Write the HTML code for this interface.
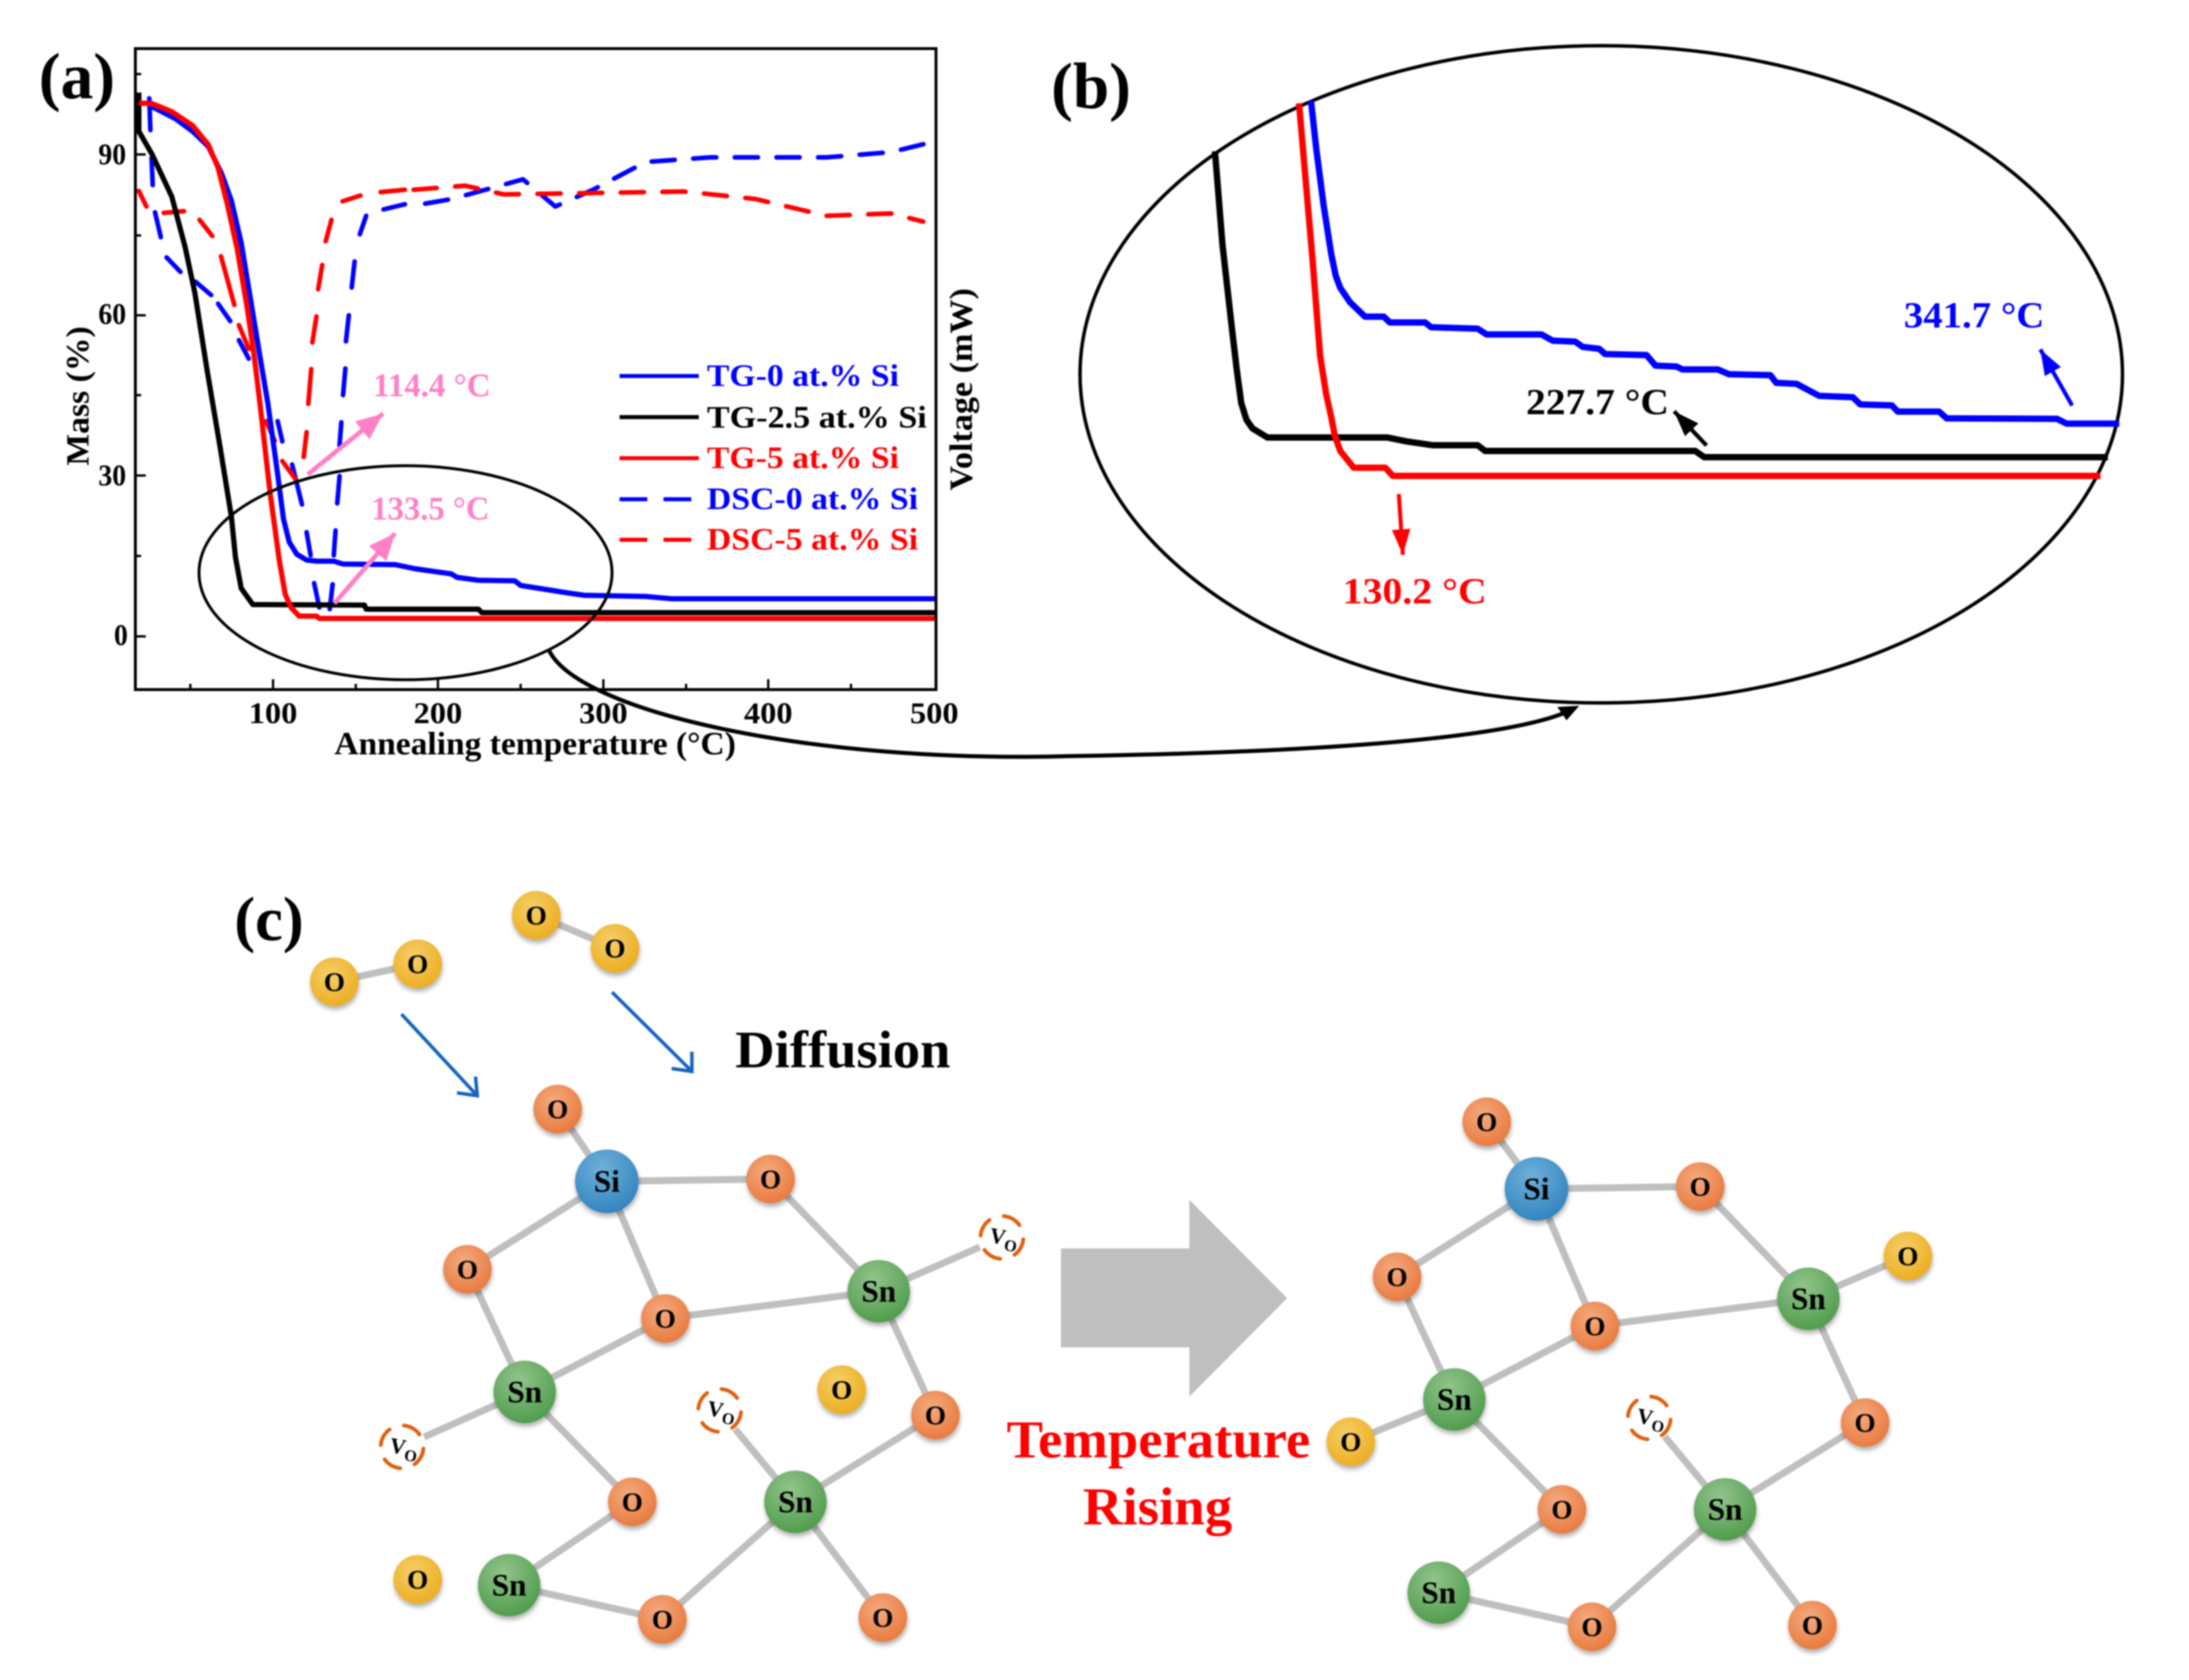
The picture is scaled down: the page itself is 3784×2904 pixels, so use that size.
<!DOCTYPE html>
<html><head><meta charset="utf-8"><style>
html,body{margin:0;padding:0;background:#fff}
svg{display:block;filter:blur(1.2px)}
text{font-family:"Liberation Serif",serif;font-weight:bold}
.n{fill:none;stroke-linejoin:round;stroke-linecap:butt}
.d{fill:none;stroke-linecap:round;stroke-linejoin:round;stroke-width:8}
.v{vector-effect:non-scaling-stroke;fill:none;stroke-linejoin:round}
.b{stroke:#bfbfbf;stroke-width:12}
.o{font-size:47px;text-anchor:middle}
.s{font-size:54px;text-anchor:middle}
.t{font-size:52px}
.l{font-size:54px}
.vo{font-size:38px}
.vo tspan{font-size:28px}
</style></head><body>
<svg xmlns="http://www.w3.org/2000/svg" width="3784" height="2904" viewBox="0 0 3784 2904">
<defs>
<radialGradient id="go" cx=".42" cy=".35" r=".7"><stop offset="0" stop-color="#f4ab80"/><stop offset="1" stop-color="#e8773a"/></radialGradient>
<radialGradient id="gy" cx=".42" cy=".35" r=".7"><stop offset="0" stop-color="#f5cf6a"/><stop offset="1" stop-color="#ecab1c"/></radialGradient>
<radialGradient id="gg" cx=".42" cy=".3" r=".75"><stop offset="0" stop-color="#92c48c"/><stop offset="1" stop-color="#4c9a48"/></radialGradient>
<radialGradient id="gb" cx=".42" cy=".3" r=".75"><stop offset="0" stop-color="#6fb0da"/><stop offset="1" stop-color="#2f82bd"/></radialGradient>
<filter id="sh" x="-30%" y="-30%" width="160%" height="160%"><feDropShadow dx="1" dy="6" stdDeviation="4" flood-color="#000" flood-opacity=".3"/></filter>
<marker id="mp" markerUnits="userSpaceOnUse" markerWidth="50" markerHeight="44" refX="46" refY="20" orient="auto"><path d="M0,0L46,20L0,40Z" fill="#ff80c4"/></marker>
<marker id="mbl" markerUnits="userSpaceOnUse" markerWidth="50" markerHeight="40" refX="44" refY="16" orient="auto"><path d="M0,0L44,16L0,32Z" fill="#0000ff"/></marker>
<marker id="mk" markerUnits="userSpaceOnUse" markerWidth="50" markerHeight="40" refX="44" refY="16" orient="auto"><path d="M0,0L44,16L0,32Z" fill="#000"/></marker>
<marker id="mr" markerUnits="userSpaceOnUse" markerWidth="50" markerHeight="40" refX="44" refY="16" orient="auto"><path d="M0,0L44,16L0,32Z" fill="#ff0000"/></marker>
</defs>
<rect width="3784" height="2904" fill="#fff"/>

<!-- panel a -->
<path class="d" stroke="#0000ff" d="M258,170L260,225M262,273L264,320M268,367L278,410M288,445L312,470M338,487L365,510M377,525L398,555M413,588L430,620M480,728L488,763M505,803L522,872M530,920L537,960M543,1008L552,1050M570,1053L575,1010M577,960L580,917M583,870L587,823M587,770L590,730M593,683L597,637M598,590L603,545M608,497L613,452M622,405L633,373M663,362L700,353"/>
<polyline class="d" stroke="#0000ff" stroke-dasharray="40,32" points="735,352 781,344 904,310 960,357 1027,327 1116,280 1228,272 1429,272 1540,263 1618,244"/>
<path class="d" stroke="#ff0000" d="M240,330L253,357M283,368L318,365M345,380L367,408M382,443L405,527M413,562L430,603M460,728L475,762M488,797L510,827M525,790L530,747M533,698L538,638M540,592L547,547M550,500L557,458M563,417L573,380M592,348L623,338M658,332L700,328"/>
<polyline class="d" stroke="#ff0000" stroke-dasharray="40,32" points="715,328 804,321 871,336 1004,334 1183,331 1306,344 1429,373 1540,369 1596,383"/>
<polyline class="n" stroke="#0000ff" stroke-width="9" points="260,183 303,205 333,227 360,253 383,300 400,347 417,420 433,517 450,620 463,697 480,820 490,897 500,937 513,958 530,968 547,970 577,970 593,975 683,976 717,983 780,992 790,998 827,1003 890,1004 900,1012 938,1018 982,1025 1010,1029 1116,1031 1161,1035 1618,1035"/>
<polyline class="n" stroke="#000" stroke-width="9" points="240,160 240,227 263,267 297,340 320,427 337,507 358,640 380,770 400,893 407,963 417,1017 437,1045 630,1046 633,1053 827,1053 833,1059 1618,1059"/>
<polyline class="n" stroke="#ff0000" stroke-width="9" points="240,178 263,179 297,193 333,217 360,250 377,290 393,353 410,430 427,530 440,620 450,703 467,853 483,970 493,1027 503,1050 517,1065 547,1065 552,1069 1618,1069"/>
<rect x="234" y="84" width="1384" height="1108" fill="none" stroke="#000" stroke-width="5"/>
<path d="M472,1192v-18M757,1192v-18M1043,1192v-18M1328,1192v-18M329,1192v-10M615,1192v-10M900,1192v-10M1186,1192v-10M1471,1192v-10M234,267h18M234,545h18M234,822h18M234,1100h18M234,128h10M234,407h10M234,683h10M234,961h10" stroke="#000" stroke-width="4" fill="none"/>
<ellipse cx="701" cy="990" rx="357" ry="185" fill="none" stroke="#000" stroke-width="5"/>
<path d="M949,1124C1000,1230 1400,1320 1850,1307C2300,1300 2600,1275 2705,1232" fill="none" stroke="#000" stroke-width="7"/>
<path d="M2730,1220L2692,1222L2708,1245Z" fill="#000"/>

<text x="67" y="170" font-size="113" textLength="132" lengthAdjust="spacingAndGlyphs">(a)</text>
<text class="t" x="170" y="284" textLength="48" lengthAdjust="spacingAndGlyphs">90</text>
<text class="t" x="170" y="560" textLength="48" lengthAdjust="spacingAndGlyphs">60</text>
<text class="t" x="170" y="839" textLength="48" lengthAdjust="spacingAndGlyphs">30</text>
<text class="t" x="197" y="1115" textLength="24" lengthAdjust="spacingAndGlyphs">0</text>
<text class="t" x="430" y="1250" textLength="84" lengthAdjust="spacingAndGlyphs">100</text>
<text class="t" x="715" y="1250" textLength="84" lengthAdjust="spacingAndGlyphs">200</text>
<text class="t" x="1001" y="1250" textLength="84" lengthAdjust="spacingAndGlyphs">300</text>
<text class="t" x="1286" y="1250" textLength="84" lengthAdjust="spacingAndGlyphs">400</text>
<text class="t" x="1573" y="1250" textLength="84" lengthAdjust="spacingAndGlyphs">500</text>
<text x="578" y="1304" font-size="56" textLength="694" lengthAdjust="spacingAndGlyphs">Annealing temperature (°C)</text>
<text transform="translate(153,805) rotate(-90)" font-size="56" textLength="241" lengthAdjust="spacingAndGlyphs">Mass (%)</text>
<text transform="translate(1680,848) rotate(-90)" font-size="56" textLength="350" lengthAdjust="spacingAndGlyphs">Voltage (mW)</text>

<path d="M1071,650H1208" stroke="#0000ff" stroke-width="7"/>
<path d="M1071,721H1208" stroke="#000" stroke-width="7"/>
<path d="M1071,792H1208" stroke="#ff0000" stroke-width="7"/>
<path d="M1071,863H1208" stroke="#0000ff" stroke-width="7" stroke-dasharray="48,28"/>
<path d="M1071,933H1208" stroke="#ff0000" stroke-width="7" stroke-dasharray="48,28"/>
<text class="l" x="1222" y="667" fill="#0000ff" textLength="332" lengthAdjust="spacingAndGlyphs">TG-0 at.% Si</text>
<text class="l" x="1222" y="739" fill="#000" textLength="380" lengthAdjust="spacingAndGlyphs">TG-2.5 at.% Si</text>
<text class="l" x="1222" y="809" fill="#ff0000" textLength="332" lengthAdjust="spacingAndGlyphs">TG-5 at.% Si</text>
<text class="l" x="1222" y="880" fill="#0000ff" textLength="365" lengthAdjust="spacingAndGlyphs">DSC-0 at.% Si</text>
<text class="l" x="1222" y="950" fill="#ff0000" textLength="365" lengthAdjust="spacingAndGlyphs">DSC-5 at.% Si</text>

<text x="645" y="685" font-size="57" fill="#ff80c4" textLength="203" lengthAdjust="spacingAndGlyphs">114.4 °C</text>
<text x="642" y="898" font-size="57" fill="#ff80c4" textLength="204" lengthAdjust="spacingAndGlyphs">133.5 °C</text>
<line x1="532" y1="820" x2="662" y2="715" stroke="#ff80c4" stroke-width="8" marker-end="url(#mp)"/>
<line x1="578" y1="1043" x2="683" y2="922" stroke="#ff80c4" stroke-width="8" marker-end="url(#mp)"/>

<!-- panel b -->
<text x="1817" y="187" font-size="113" textLength="138" lengthAdjust="spacingAndGlyphs">(b)</text>
<ellipse cx="2768" cy="647" rx="901" ry="568" fill="none" stroke="#000" stroke-width="6"/>
<g transform="translate(1750,50) scale(1.2972,.829)">
<polyline class="v" stroke="#0000ff" stroke-width="11" points="398,150 405,250 415,370 425,470 431,515 437,540 450,570 470,600 495,600 503,612 550,612 558,622 620,625 632,637 705,637 720,650 750,652 760,663 782,667 790,678 845,680 857,702 885,704 893,710 940,710 955,720 1010,722 1018,738 1045,740 1075,765 1120,768 1130,783 1172,785 1180,798 1235,798 1245,812 1392,813 1405,823 1475,823"/>
<polyline class="v" stroke="#000" stroke-width="11" points="270,255 280,450 293,630 299,710 305,780 312,815 320,833 340,852 500,852 525,860 560,868 620,868 630,880 910,880 922,893 1460,893"/>
<polyline class="v" stroke="#ff0000" stroke-width="11" points="382,155 390,300 400,480 410,680 418,760 425,810 430,850 437,880 455,915 497,915 507,932 1450,932"/>
</g>
<text x="3291" y="566" font-size="64" fill="#0000ff" textLength="243" lengthAdjust="spacingAndGlyphs">341.7 °C</text>
<text x="2638" y="716" font-size="64" fill="#000" textLength="247" lengthAdjust="spacingAndGlyphs">227.7 °C</text>
<text x="2321" y="1043" font-size="64" fill="#ff0000" textLength="249" lengthAdjust="spacingAndGlyphs">130.2 °C</text>
<line x1="3582" y1="701" x2="3527" y2="604" stroke="#0000ff" stroke-width="7" marker-end="url(#mbl)"/>
<line x1="2950" y1="770" x2="2894" y2="711" stroke="#000" stroke-width="7" marker-end="url(#mk)"/>
<line x1="2418" y1="854" x2="2425" y2="959" stroke="#ff0000" stroke-width="7" marker-end="url(#mr)"/>

<!-- panel c -->
<text x="405" y="1625" font-size="108" textLength="120" lengthAdjust="spacingAndGlyphs">(c)</text>
<text x="1271" y="1845" font-size="91" textLength="372" lengthAdjust="spacingAndGlyphs">Diffusion</text>
<text x="1740" y="2519" font-size="92" fill="#ff0000" textLength="525" lengthAdjust="spacingAndGlyphs">Temperature</text>
<text x="1872" y="2635" font-size="92" fill="#ff0000" textLength="258" lengthAdjust="spacingAndGlyphs">Rising</text>
<path d="M694,1753L825,1894M790,1889L825,1894L822,1861M1058,1715L1196,1852M1161,1847L1196,1852L1196,1818" fill="none" stroke="#1565c0" stroke-width="6"/>
<path d="M1834,2158H2056V2074L2225,2244L2056,2414V2329H1834Z" fill="#bfbfbf"/>

<g class="b" fill="none">
<path d="M578,1697L722,1666M927,1582L1063,1639"/>
<path d="M964,1917L1049,2042M1049,2042L1332,2038M1049,2042L808,2194M1049,2042L1150,2279M1332,2038L1519,2232M1150,2279L1519,2232M1519,2232L1732,2139M808,2194L907,2406M1150,2279L907,2406M907,2406L695,2501M907,2406L1093,2596M1093,2596L880,2740M880,2740L1145,2799M1145,2799L1375,2596M1375,2596L1617,2446M1617,2446L1519,2232M1375,2596L1244,2438M1375,2596L1526,2796"/>
<path d="M2570,1939L2656,2055M2656,2055L2939,2051M2656,2055L2415,2207M2656,2055L2757,2292M2939,2051L3126,2245M2757,2292L3126,2245M3126,2245L3298,2171M2415,2207L2514,2419M2757,2292L2514,2419M2514,2419L2335,2492M2514,2419L2700,2609M2700,2609L2487,2753M2487,2753L2752,2812M2752,2812L2982,2609M2982,2609L3224,2459M3224,2459L3126,2245M2982,2609L2851,2451M2982,2609L3133,2809"/>
</g>

<!-- Vo -->
<g fill="#fff" stroke="none">
<circle cx="1732" cy="2139" r="42"/><circle cx="695" cy="2501" r="42"/><circle cx="1244" cy="2438" r="42"/><circle cx="2851" cy="2451" r="42"/>
</g>
<g fill="none" stroke="#e0600f" stroke-width="6.5" stroke-dasharray="32,26.1" stroke-dashoffset="-3" stroke-linecap="round">
<circle cx="1732" cy="2139" r="37"/><circle cx="695" cy="2501" r="37"/><circle cx="1244" cy="2438" r="37"/><circle cx="2851" cy="2451" r="37"/>
</g>
<text class="vo" transform="translate(1709,2147) rotate(10)">V<tspan dy="9">O</tspan></text>
<text class="vo" transform="translate(672,2510) rotate(10)">V<tspan dy="9">O</tspan></text>
<text class="vo" transform="translate(1221,2446) rotate(10)">V<tspan dy="9">O</tspan></text>
<text class="vo" transform="translate(2828,2459) rotate(10)">V<tspan dy="9">O</tspan></text>

<!-- atoms -->
<g filter="url(#sh)">
<circle cx="578" cy="1697" r="42" fill="url(#gy)"/><circle cx="722" cy="1666" r="42" fill="url(#gy)"/><circle cx="927" cy="1582" r="42" fill="url(#gy)"/><circle cx="1063" cy="1639" r="42" fill="url(#gy)"/>
<circle cx="1455" cy="2402" r="42" fill="url(#gy)"/><circle cx="722" cy="2730" r="42" fill="url(#gy)"/>
<circle cx="3298" cy="2171" r="42" fill="url(#gy)"/><circle cx="2335" cy="2492" r="42" fill="url(#gy)"/>

<circle cx="964" cy="1917" r="42" fill="url(#go)"/><circle cx="1332" cy="2038" r="42" fill="url(#go)"/><circle cx="808" cy="2194" r="42" fill="url(#go)"/><circle cx="1150" cy="2279" r="42" fill="url(#go)"/><circle cx="1617" cy="2446" r="42" fill="url(#go)"/><circle cx="1093" cy="2596" r="42" fill="url(#go)"/><circle cx="1145" cy="2799" r="42" fill="url(#go)"/><circle cx="1526" cy="2796" r="42" fill="url(#go)"/>
<circle cx="2570" cy="1939" r="42" fill="url(#go)"/><circle cx="2939" cy="2051" r="42" fill="url(#go)"/><circle cx="2415" cy="2207" r="42" fill="url(#go)"/><circle cx="2757" cy="2292" r="42" fill="url(#go)"/><circle cx="3224" cy="2459" r="42" fill="url(#go)"/><circle cx="2700" cy="2609" r="42" fill="url(#go)"/><circle cx="2752" cy="2812" r="42" fill="url(#go)"/><circle cx="3133" cy="2809" r="42" fill="url(#go)"/>

<circle cx="1049" cy="2042" r="55" fill="url(#gb)"/><circle cx="2656" cy="2055" r="55" fill="url(#gb)"/>
<circle cx="1519" cy="2232" r="54" fill="url(#gg)"/><circle cx="907" cy="2406" r="54" fill="url(#gg)"/><circle cx="1375" cy="2596" r="54" fill="url(#gg)"/><circle cx="880" cy="2740" r="54" fill="url(#gg)"/>
<circle cx="3126" cy="2245" r="54" fill="url(#gg)"/><circle cx="2514" cy="2419" r="54" fill="url(#gg)"/><circle cx="2982" cy="2609" r="54" fill="url(#gg)"/><circle cx="2487" cy="2753" r="54" fill="url(#gg)"/>
</g>

<g>
<text class="o" x="578" y="1713">O</text><text class="o" x="722" y="1682">O</text><text class="o" x="927" y="1598">O</text><text class="o" x="1063" y="1655">O</text>
<text class="o" x="1455" y="2418">O</text><text class="o" x="722" y="2746">O</text>
<text class="o" x="3298" y="2187">O</text><text class="o" x="2335" y="2508">O</text>
<text class="o" x="964" y="1933">O</text><text class="o" x="1332" y="2054">O</text><text class="o" x="808" y="2210">O</text><text class="o" x="1150" y="2295">O</text><text class="o" x="1617" y="2462">O</text><text class="o" x="1093" y="2612">O</text><text class="o" x="1145" y="2815">O</text><text class="o" x="1526" y="2812">O</text>
<text class="o" x="2570" y="1955">O</text><text class="o" x="2939" y="2067">O</text><text class="o" x="2415" y="2223">O</text><text class="o" x="2757" y="2308">O</text><text class="o" x="3224" y="2475">O</text><text class="o" x="2700" y="2625">O</text><text class="o" x="2752" y="2828">O</text><text class="o" x="3133" y="2825">O</text>
<text class="s" x="1049" y="2060">Si</text><text class="s" x="2656" y="2073">Si</text>
<text class="s" x="1519" y="2250">Sn</text><text class="s" x="907" y="2424">Sn</text><text class="s" x="1375" y="2614">Sn</text><text class="s" x="880" y="2758">Sn</text>
<text class="s" x="3126" y="2263">Sn</text><text class="s" x="2514" y="2437">Sn</text><text class="s" x="2982" y="2627">Sn</text><text class="s" x="2487" y="2771">Sn</text>
</g>
</svg>
</body></html>
